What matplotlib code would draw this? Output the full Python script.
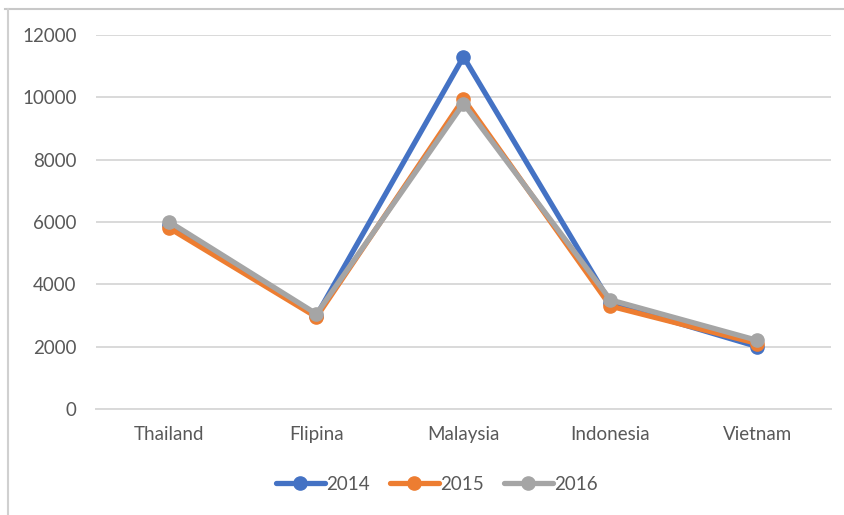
import matplotlib
matplotlib.use("Agg")
import matplotlib.pyplot as plt
from matplotlib.lines import Line2D

categories = ["Thailand", "Flipina", "Malaysia", "Indonesia", "Vietnam"]
years = ["2014", "2015", "2016"]
v2014 = [5900, 3000, 11300, 3400, 2000]
v2015 = [5800, 2950, 9950, 3300, 2100]
v2016 = [6000, 3050, 9800, 3500, 2200]
yticks = [0, 2000, 4000, 6000, 8000, 10000, 12000]
colors = ["#4472C4", "#ED7D31", "#A5A5A5"]

FONT = "Lato"
TXT = "#595959"
FS = 13.5

fig = plt.figure(figsize=(8.45, 5.15), dpi=100)
ax = fig.add_axes([96/845, 1-409/515, 735/845, 374/515])

x = list(range(len(categories)))
for vals, lab, c in zip([v2014, v2015, v2016], years, colors):
    ax.plot(x, vals, color=c, lw=3.8, marker="o", ms=9.5, label=lab,
            clip_on=False, solid_capstyle="round", zorder=3)

ax.set_xlim(-0.5, len(categories) - 0.5)
ax.set_ylim(0, 12000)
ax.set_yticks(yticks)
ax.set_yticklabels([str(t) for t in yticks], fontsize=FS, color=TXT, family=FONT)
ax.set_xticks(x)
ax.set_xticklabels(categories, fontsize=FS, color=TXT, family=FONT)
ax.tick_params(axis="y", length=0, pad=14)
ax.tick_params(axis="x", length=0, pad=12)
ax.grid(axis="y", color="#D9D9D9", lw=1.4)
ax.set_axisbelow(True)
for s in ax.spines.values():
    s.set_visible(False)
ax.spines["bottom"].set_visible(True)
ax.spines["bottom"].set_color("#D9D9D9")
ax.spines["bottom"].set_linewidth(1.4)

leg = ax.legend(loc="center", bbox_to_anchor=(437/845, 1-484/515),
                bbox_transform=fig.transFigure, ncol=3, frameon=False,
                prop={"family": FONT, "size": FS}, handlelength=2.6,
                handletextpad=0.1, columnspacing=1.05)
for t in leg.get_texts():
    t.set_color(TXT)

# outer frame (top and left edges)
fig.add_artist(Line2D([5/845, 1], [1-8.5/515, 1-8.5/515], transform=fig.transFigure,
                      color="#C8C8C8", lw=1.5))
fig.add_artist(Line2D([8.5/845, 8.5/845], [0, 1-8.5/515], transform=fig.transFigure,
                      color="#D0D0D0", lw=1.5))

fig.savefig("out.png", dpi=100)
